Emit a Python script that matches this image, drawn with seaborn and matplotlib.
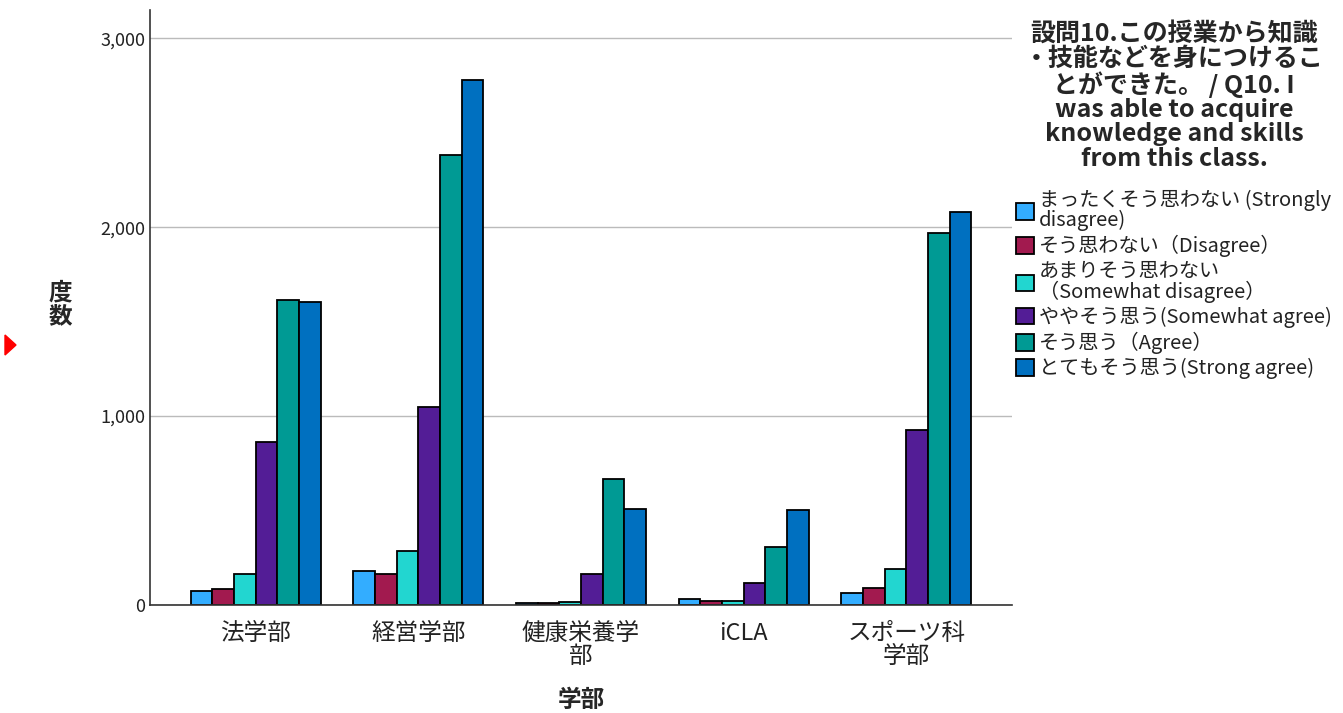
import matplotlib
matplotlib.use("Agg")
import matplotlib.pyplot as plt
import matplotlib.patches as mpatches
import seaborn as sns
import pandas as pd

# faculties on the x axis
faculties = ["法学部", "経営学部", "健康栄養学\n部", "iCLA", "スポーツ科\n学部"]

# answer categories (legend)
answers = ["まったくそう思わない (Strongly\ndisagree)",
           "そう思わない（Disagree）",
           "あまりそう思わない\n（Somewhat disagree）",
           "ややそう思う(Somewhat agree)",
           "そう思う（Agree）",
           "とてもそう思う(Strong agree)"]

# counts per answer, one value per faculty
strongly_disagree = [73, 180, 10, 33, 65]
disagree = [83, 166, 10, 23, 88]
somewhat_disagree = [164, 288, 16, 23, 189]
somewhat_agree = [864, 1047, 166, 115, 929]
agree = [1616, 2380, 666, 306, 1971]
strong_agree = [1606, 2777, 510, 502, 2083]

colors = ["#33adff", "#a21a4f", "#22d6d0", "#531d96", "#009a94", "#0070c0"]

series = [strongly_disagree, disagree, somewhat_disagree, somewhat_agree, agree, strong_agree]
rows = []
for ans, vals in zip(answers, series):
    for fac, v in zip(faculties, vals):
        rows.append({"学部": fac, "回答": ans, "度数": v})
df = pd.DataFrame(rows)

sns.set_style("white")
plt.rcParams['font.family'] = ['Noto Sans CJK JP', 'DejaVu Sans']

fig = plt.figure(figsize=(13.43, 7.13), dpi=100)
ax = fig.add_axes([150/1343, 1-605/713, 862/1343, 595/713])

sns.barplot(data=df, x="学部", y="度数", hue="回答", order=faculties, hue_order=answers,
            palette=colors, saturation=1, edgecolor="black", linewidth=1.3, width=0.8, ax=ax)

ax.set_xlim(-0.65, 4.65)
ax.set_ylim(0, 3150)
ax.set_yticks([0, 1000, 2000, 3000])
ax.set_yticklabels(["0", "1,000", "2,000", "3,000"], fontsize=13, color="#222222")
ax.tick_params(axis="x", labelsize=17, length=0, colors="#222222", pad=12)
ax.tick_params(axis="y", length=0)
for t in ax.get_xticklabels():
    t.set_linespacing(1.0)
ax.yaxis.grid(True, color="#bbbbbb", linewidth=1)
ax.set_axisbelow(True)
sns.despine(ax=ax)
for s in ["left", "bottom"]:
    ax.spines[s].set_color("#333333")
    ax.spines[s].set_linewidth(1.2)

ax.set_ylabel("度\n数", rotation=0, fontsize=17, fontweight="bold", linespacing=1.0,
              ha="center", va="center")
ax.yaxis.set_label_coords(-0.104, 0.505)
ax.set_xlabel("学部", fontsize=17, fontweight="bold")
ax.xaxis.set_label_coords(0.5, -0.14)

title = ("設問10.この授業から知識\n・技能などを身につけるこ\nとができた。 / Q10. I\n"
         "was able to acquire\nknowledge and skills\nfrom this class.")
leg = ax.legend(title=title, loc="upper left", bbox_to_anchor=(1008/1343, 1-14/713),
                bbox_transform=fig.transFigure, frameon=False, fontsize=14.5,
                title_fontsize=18, handlelength=0.9, handleheight=0.9,
                handletextpad=0.25, labelspacing=0.2, borderaxespad=0)
leg.get_title().set_fontweight("bold")
leg.get_title().set_multialignment("center")
leg.get_title().set_linespacing(1.02)
leg._legend_box.align = "center"
leg._legend_box.sep = 14
for t in leg.get_texts():
    t.set_linespacing(0.9)
    t.set_color("#222222")

# red marker at left edge
fig.patches.append(mpatches.Polygon([[5/1343, 1-335/713], [5/1343, 1-355/713], [16/1343, 1-345/713]],
                                    closed=True, color="red", transform=fig.transFigure))

fig.savefig("out.png", dpi=100)
